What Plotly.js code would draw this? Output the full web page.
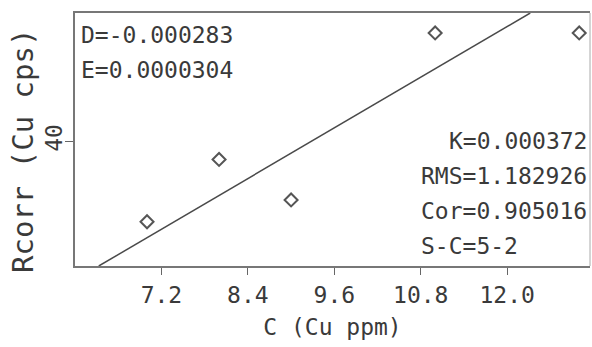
<!DOCTYPE html>
<html>
<head>
<meta charset="utf-8">
<script src="https://cdn.plot.ly/plotly-3.0.1.min.js"></script>
<style>
html,body{margin:0;padding:0;background:#fff;}
#chart{width:592px;height:347px;}
</style>
</head>
<body>
<div id="chart"></div>
<script>
// Data
const concCu = [7.0, 8.0, 9.0, 11.0, 13.0];          // C (Cu ppm)
const rcorr  = [33.55, 38.55, 35.3, 48.7, 48.7];     // Rcorr (Cu cps)
const fitX   = [6.33, 12.32];                        // calibration line ends
const fitY   = [30.0, 50.3];
const xTickVals = [7.2, 8.4, 9.6, 10.8, 12.0];
const xTickText = ['7.2', '8.4', '9.6', '10.8', '12.0'];
const yTickVals = [40];
const yTickText = ['40'];
const xTitle = 'C (Cu ppm)';
const yTitle = 'Rcorr (Cu cps)';
const statsLeft  = ['D=-0.000283', 'E=0.0000304'];
const statsRight = ['K=0.000372', 'RMS=1.182926', 'Cor=0.905016', 'S-C=5-2'];

const FONT = 'DejaVu Sans Mono, Liberation Mono, monospace';
const TXT = '#3a3a3a';
const W = 592, H = 347, L = 75, R = 2, T = 13, B = 81;
const pw = W - L - R, ph = H - T - B;
const px2x = p => (p - L) / pw;
const py2y = p => (H - B - p) / ph;

const traces = [
  {
    x: fitX, y: fitY, mode: 'lines', type: 'scatter',
    line: {color: '#4a4a4a', width: 1.5}, hoverinfo: 'skip', showlegend: false
  },
  {
    x: concCu, y: rcorr, mode: 'markers', type: 'scatter',
    marker: {symbol: 'diamond-open', size: 10, color: '#555', line: {width: 2, color: '#555'}},
    showlegend: false
  }
];

const annotations = [];
statsLeft.forEach((t, i) => annotations.push({
  text: t, xref: 'paper', yref: 'paper', x: px2x(79), y: py2y(35 + i * 35),
  xanchor: 'left', yanchor: 'middle', showarrow: false,
  font: {family: FONT, size: 23, color: TXT}
}));
statsRight.forEach((t, i) => annotations.push({
  text: t, xref: 'paper', yref: 'paper',
  x: i === 0 ? px2x(589) : px2x(419), y: py2y(141 + i * 35),
  xanchor: i === 0 ? 'right' : 'left', yanchor: 'middle', showarrow: false,
  font: {family: FONT, size: 23, color: TXT}
}));
annotations.push({
  text: yTitle, xref: 'paper', yref: 'paper', x: px2x(23), y: py2y(151),
  xanchor: 'center', yanchor: 'middle', textangle: -90, showarrow: false,
  font: {family: FONT, size: 29, color: TXT}
});

const layout = {
  width: W, height: H,
  margin: {l: L, r: R, t: T, b: B, pad: 0},
  paper_bgcolor: '#fff', plot_bgcolor: '#fff',
  font: {family: FONT, color: TXT},
  showlegend: false,
  xaxis: {
    range: [6.0, 13.15], showgrid: false, zeroline: false,
    tickmode: 'array', tickvals: xTickVals, ticktext: xTickText,
    ticks: 'outside', ticklen: 7, tickwidth: 1, tickcolor: '#666',
    tickfont: {family: FONT, size: 23, color: TXT},
    showline: true, linecolor: '#777', linewidth: 2, mirror: true,
    title: {text: xTitle, font: {family: FONT, size: 23, color: TXT}, standoff: 12},
    automargin: false
  },
  yaxis: {
    range: [30, 50.3], showgrid: false, zeroline: false,
    tickmode: 'array', tickvals: yTickVals, ticktext: yTickText, tickangle: -90,
    ticks: 'outside', ticklen: 8, tickwidth: 1, tickcolor: '#666',
    ticklabelstandoff: -6,
    tickfont: {family: FONT, size: 23, color: TXT},
    showline: true, linecolor: '#777', linewidth: 2, mirror: false,
    automargin: false
  },
  shapes: [{
    type: 'line', xref: 'paper', yref: 'paper', x0: 1, x1: 1, y0: 0, y1: 1,
    line: {color: '#aaa', width: 1}
  }],
  annotations: annotations
};

Plotly.newPlot('chart', traces, layout, {staticPlot: true, displayModeBar: false});
</script>
</body>
</html>
